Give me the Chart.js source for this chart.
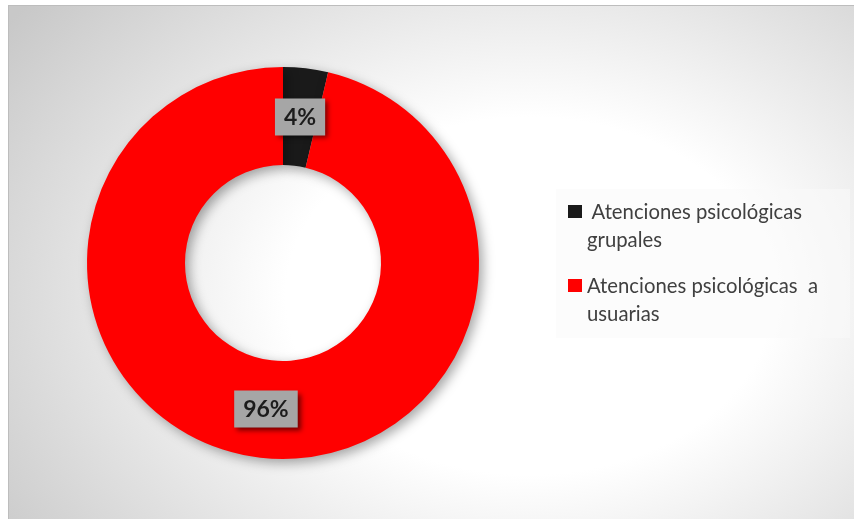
<!DOCTYPE html>
<html>
<head>
<meta charset="utf-8">
<script src="https://cdn.jsdelivr.net/npm/chart.js@4"></script>
<style>
  html, body { margin: 0; padding: 0; background: #fff; }
  #marco {
    position: absolute; left: 8px; top: 5px; width: 845px; height: 514px;
    border-top: 1px solid #bdbdbd; border-left: 1px solid #bdbdbd;
    background: radial-gradient(ellipse 640px 470px at 520px 290px, #ffffff 0%, #ffffff 38%, #c8c8c8 100%);
  }
  #grafica { position: absolute; left: 0; top: 0; }
  #leyenda {
    position: absolute; left: 556px; top: 189px; width: 294px; height: 149px;
    background: rgba(250,250,250,0.55);
    font-family: Lato, "Open Sans", sans-serif; font-size: 20.3px; color: #404040;
  }
  .item { position: absolute; left: 12px; }
  .item .cuadro { position: absolute; left: 0; width: 14px; height: 13px; }
  .item .texto { position: absolute; left: 19px; white-space: pre; line-height: 28px; }
</style>
</head>
<body>
<div id="marco"></div>
<canvas id="grafica" width="859" height="519"></canvas>
<div id="leyenda"></div>
<script>
const categorias = [' Atenciones psicológicas\ngrupales', 'Atenciones psicológicas  a\nusuarias'];
const valores = [3.7, 96.3];
const colores = ['#1a1a1a', '#ff0000'];

const ctx = document.getElementById('grafica');

// sombra del anillo
const sombraAnillo = {
  id: 'sombraAnillo',
  beforeDatasetsDraw(chart) {
    const c = chart.ctx;
    c.save();
    c.shadowColor = 'rgba(0,0,0,0.35)';
    c.shadowBlur = 12;
    c.shadowOffsetX = 4;
    c.shadowOffsetY = 4;
  },
  afterDatasetsDraw(chart) {
    chart.ctx.restore();
  }
};

// etiquetas de porcentaje en cajas grises
const etiquetas = {
  id: 'etiquetas',
  afterDraw(chart) {
    const c = chart.ctx;
    const meta = chart.getDatasetMeta(0);
    const total = valores.reduce((a, b) => a + b, 0);
    meta.data.forEach((arco, i) => {
      const pos = arco.tooltipPosition();
      const txt = Math.round(valores[i] / total * 100) + '%';
      c.save();
      c.font = 'bold 23px Lato, "Open Sans", sans-serif';
      const w = c.measureText(txt).width + 18;
      const h = 37;
      c.shadowColor = 'rgba(0,0,0,0.55)';
      c.shadowBlur = 5;
      c.shadowOffsetX = 3;
      c.shadowOffsetY = 3;
      c.fillStyle = '#a6a6a6';
      c.fillRect(pos.x - w / 2, pos.y - h / 2, w, h);
      c.shadowColor = 'transparent';
      c.fillStyle = '#1c1c1c';
      c.textAlign = 'center';
      c.textBaseline = 'middle';
      c.fillText(txt, pos.x, pos.y + 1);
      c.restore();
    });
  }
};

const grafica = new Chart(ctx, {
  type: 'doughnut',
  data: {
    labels: categorias,
    datasets: [{
      data: valores,
      backgroundColor: colores,
      borderWidth: 0
    }]
  },
  options: {
    responsive: false,
    animation: false,
    cutout: '50%',
    layout: {
      padding: { left: 87, right: 380, top: 67, bottom: 60 }
    },
    plugins: {
      legend: { display: false },
      tooltip: { enabled: false }
    }
  },
  plugins: [sombraAnillo, etiquetas]
});

// leyenda en HTML a partir de los datos de la gráfica
const leyenda = document.getElementById('leyenda');
const tops = [16, 90];
grafica.data.labels.forEach((lab, i) => {
  const d = document.createElement('div');
  d.className = 'item';
  d.style.top = tops[i] + 'px';
  d.innerHTML = '<div class="cuadro" style="top:0;background:' + colores[i] + '"></div>' +
    '<div class="texto" style="top:-8px"></div>';
  d.querySelector('.texto').textContent = lab;
  leyenda.appendChild(d);
});
</script>
</body>
</html>
